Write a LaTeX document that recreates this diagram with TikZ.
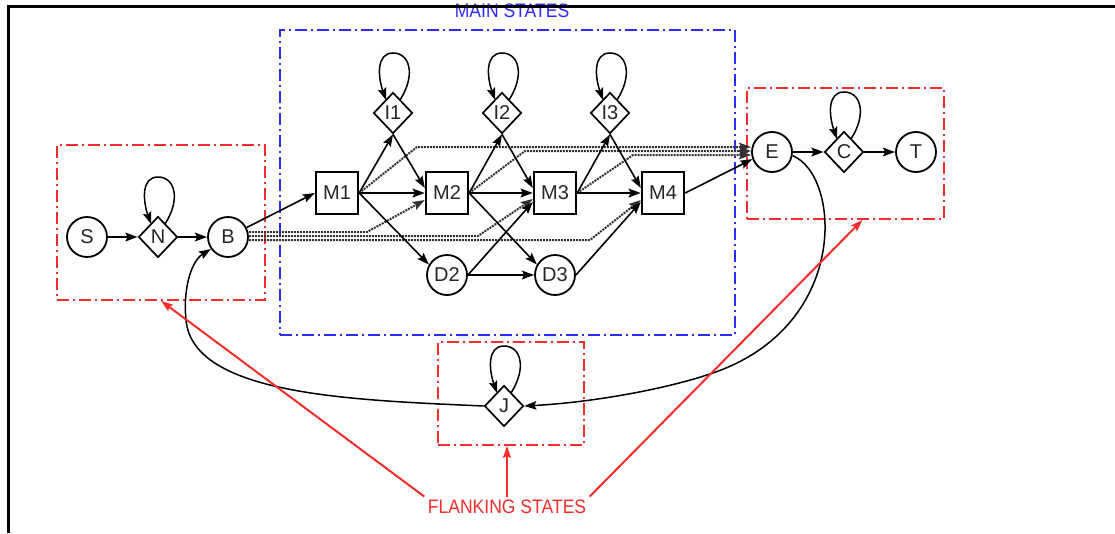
\documentclass[tikz,border=0pt]{standalone}
\usepackage{fontspec}
\setmainfont{Liberation Sans}
\newfontfamily\lblfont[FakeStretch=0.9]{Liberation Sans}
\usetikzlibrary{shapes.geometric,arrows.meta}
\definecolor{fred}{RGB}{245,45,45}
\definecolor{fblue}{RGB}{45,45,245}
\definecolor{dotgray}{RGB}{50,50,50}
\newcommand\sloop[1]{\draw[arr,line width=1.5pt] ([shift={(7,-13)}]#1.center) .. controls ([shift={(23,-38)}]#1.center) and ([shift={(17,-60)}]#1.center) .. ([shift={(0,-60)}]#1.center) .. controls ([shift={(-17,-60)}]#1.center) and ([shift={(-15,-36)}]#1.center) .. ([shift={(-7,-13)}]#1.center);}
\begin{document}
\begin{tikzpicture}[x=1pt,y=-1pt,
  lbl/.style={font=\fontsize{20}{20}\selectfont,text=black!85},
  circ/.style={lbl,circle,draw,line width=1.8pt,minimum size=40pt,inner sep=0pt},
  dia/.style={lbl,diamond,draw,line width=1.7pt,minimum width=39pt,minimum height=41pt,inner sep=0pt,aspect=1},
  sq/.style={lbl,rectangle,draw,line width=2.4pt,minimum size=42pt,inner sep=0pt},
  arr/.style={line width=1.6pt,-{Stealth[length=12pt,width=8.5pt,inset=2pt]}},
  tarr/.style={arr,line width=2.6pt},
  dots/.style={dotgray,densely dotted,line width=2pt,-{Stealth[length=12pt,width=8.5pt,inset=2pt]}},
  redbox/.style={draw=fred,line width=1.7pt,dash pattern=on 12pt off 4pt on 2pt off 4pt,inner sep=0pt},
  bluebox/.style={draw=fblue,line width=1.7pt,dash pattern=on 12pt off 4pt on 2pt off 4pt,inner sep=0pt},
  redarr/.style={fred,line width=2pt,-{Stealth[length=12pt,width=8pt,inset=2pt]}},
  biglbl/.style={font=\lblfont\fontsize{19.5}{20}\selectfont}
]
\useasboundingbox (0,0) rectangle (1115,533);

% boxes
\node[redbox,minimum width=208pt,minimum height=155pt] (Lbox) at (161,222.5) {};
\node[bluebox,minimum width=455pt,minimum height=305pt] (Mbox) at (507.5,182.5) {};
\node[redbox,minimum width=197pt,minimum height=131pt] (Rbox) at (845.5,153.5) {};
\node[redbox,minimum width=146pt,minimum height=103pt] (Jbox) at (511,393.5) {};

% nodes
\node[circ] (S) at (87,237) {S};
\node[dia] (N) at (158,237) {N};
\node[circ] (B) at (228,237) {B};
\node[sq] (M1) at (337,193) {M1};
\node[sq] (M2) at (447,193) {M2};
\node[sq] (M3) at (555,193) {M3};
\node[sq] (M4) at (663,193) {M4};
\node[dia] (I1) at (393,113) {I1};
\node[dia] (I2) at (502,113) {I2};
\node[dia] (I3) at (610,113) {I3};
\node[circ] (D2) at (447,275) {D2};
\node[circ] (D3) at (555,275) {D3};
\node[circ] (E) at (772,152) {E};
\node[dia] (C) at (844,152) {C};
\node[circ] (T) at (916,152) {T};
\node[dia] (J) at (504,406) {J};

% self loops
\sloop{N}\sloop{I1}\sloop{I2}\sloop{I3}\sloop{C}\sloop{J}

% dotted transitions
\draw[dots] ([yshift=5pt]B.east) -- (367,232) -- ([yshift=-7pt]M2.west);
\draw[dots] ([yshift=1pt]B.east) -- (478,236) -- ([yshift=-6pt]M3.west);
\draw[dots] ([yshift=-3pt]B.east) -- (590,240) -- ([yshift=-7pt]M4.west);
\draw[dots] (M1.east) -- (417,147) -- ([yshift=5pt]E.west);
\draw[dots] (M2.east) -- (525,151) -- ([yshift=1pt]E.west);
\draw[dots] (M3.east) -- (633,155) -- ([yshift=-3pt]E.west);

% flanking arrows
\draw[tarr] (S) -- (N);
\draw[tarr] (N) -- (B);
\draw[arr] (B) -- (M1.west);
\draw[tarr] (E) -- (C);
\draw[tarr] (C) -- (T);
\draw[arr] (M4.east) -- (E.200);

% main arrows
\draw[arr] (M1.east) -- (I1.south);
\draw[arr] (I1.south) -- ([yshift=5pt]M2.west);
\draw[tarr] (M1.east) -- (M2.west);
\draw[arr] (M1.east) -- (D2.150);
\draw[arr] (M2.east) -- (I2.south);
\draw[arr] (I2.south) -- ([yshift=5pt]M3.west);
\draw[tarr] (M2.east) -- (M3.west);
\draw[arr] (M2.east) -- (D3.150);
\draw[arr] (D2.east) -- ([yshift=-9pt]M3.west);
\draw[tarr] (D2) -- (D3);
\draw[arr] (M3.east) -- (I3.south);
\draw[arr] (I3.south) -- ([yshift=5pt]M4.west);
\draw[tarr] (M3.east) -- (M4.west);
\draw[arr] (D3.east) -- ([yshift=-9pt]M4.west);

% long curves
\draw[arr,line width=1.5pt] (E.-10) .. controls (840,175) and (850,320) .. (721,370) .. controls (680,386) and (600,402) .. (J.east);
\draw[arr,line width=1.5pt] (J.west) .. controls (350,400) and (193,395) .. (186,320) .. controls (183,292) and (190,262) .. (B.215);

% labels
\node[biglbl,text=fblue,anchor=base] (mainlbl) at (512,17.5) {MAIN STATES};
\node[biglbl,text=fred] (flank) at (507,507) {FLANKING STATES};
\draw[redarr] (flank.north west) -- (Lbox.south);
\draw[redarr] (flank.north) -- (flank.north |- Jbox.south);
\draw[redarr] (flank.north east) -- ([xshift=17pt]Rbox.south);

% frame
\draw[line width=2.8pt] (8.3,533) -- (8.3,6.3) -- (1115,6.3);
\end{tikzpicture}
\end{document}
